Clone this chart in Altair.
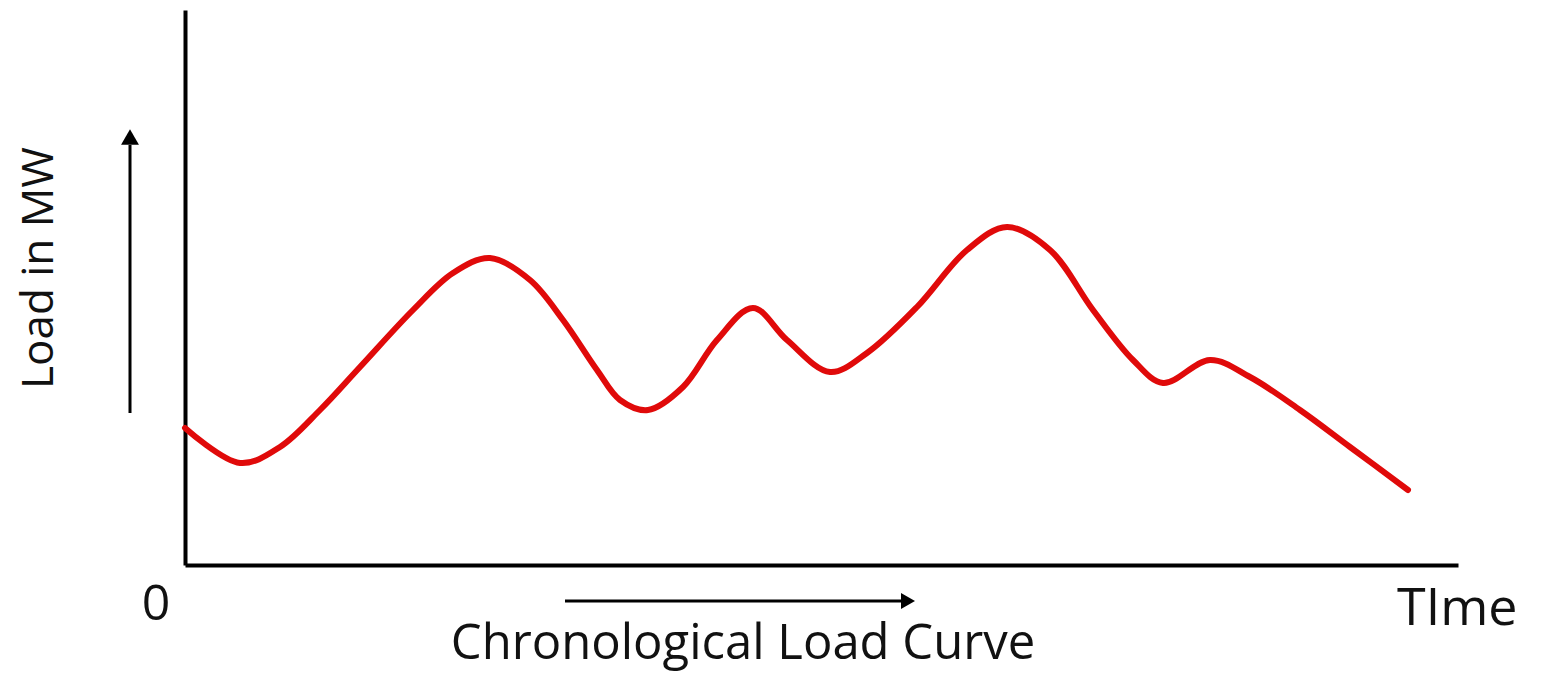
import altair as alt
import pandas as pd

# Chronological load curve (time units, load units)
time = [0, 55, 95, 135, 175, 228, 268, 305, 345, 378, 412, 435, 463, 498, 532, 568,
        602, 645, 682, 732, 782, 822, 865, 908, 948, 978, 1025, 1065, 1115, 1165, 1223]
load = [137, 102, 118, 155, 198, 255, 292, 307, 285, 245, 195, 165, 155, 178, 225, 257,
        225, 193, 212, 258, 315, 338, 315, 255, 205, 182, 205, 188, 155, 118, 75]

x_domain = [0, 1273]
y_domain = [0, 555]

W, H = 1273, 555
FONT = "Open Sans"

df = pd.DataFrame({"t": time, "load": load})

xs = alt.Scale(domain=x_domain, nice=False, zero=False)
ys = alt.Scale(domain=y_domain, nice=False, zero=False)
axis_style = dict(domain=True, domainColor="black", domainWidth=4, labels=False,
                  ticks=False, grid=False, title=None)

curve = alt.Chart(df).mark_line(color="#E00A0A", strokeWidth=6, interpolate="catmull-rom",
                                strokeCap="round", strokeJoin="round").encode(
    x=alt.X("t:Q", scale=xs, axis=alt.Axis(**axis_style)),
    y=alt.Y("load:Q", scale=ys, axis=alt.Axis(**axis_style)),
)

base = alt.Chart(pd.DataFrame({"a": [0]}))

def label(txt, x, y, size, align="center", baseline="alphabetic", angle=0):
    kw = dict(text=txt, font=FONT, fontSize=size, color="#111111", align=align, baseline=baseline)
    if angle:
        kw["angle"] = angle
    return base.mark_text(**kw).encode(x=alt.value(x), y=alt.value(y))

zero_lbl = label("0", -29, 610, 50)
time_lbl = label("TIme", 1212, 615, 52, align="left")
x_title = label("Chronological Load Curve", 558, 649, 49)
y_title = label("Load in MW", -145, 258, 44, baseline="middle", angle=270)

up_line = base.mark_rule(color="black", strokeWidth=3).encode(
    x=alt.value(-55), y=alt.value(403), y2=alt.value(135))
up_head = base.mark_point(shape="triangle-up", filled=True, color="black", size=320, opacity=1).encode(
    x=alt.value(-55), y=alt.value(127))
right_line = base.mark_rule(color="black", strokeWidth=3).encode(
    x=alt.value(380), x2=alt.value(720), y=alt.value(591))
right_head = base.mark_point(shape="triangle-right", filled=True, color="black", size=260, opacity=1).encode(
    x=alt.value(723), y=alt.value(591))

chart = alt.layer(curve, zero_lbl, time_lbl, x_title, y_title, up_line, up_head,
                  right_line, right_head).properties(
    width=W, height=H,
    padding={"left": 177, "top": 2, "right": 80, "bottom": 108},
    autosize=alt.AutoSizeParams(type="none"),
    background="white",
).configure_view(stroke=None)

chart.save("out.html", embed_options={"renderer": "svg", "actions": False})
